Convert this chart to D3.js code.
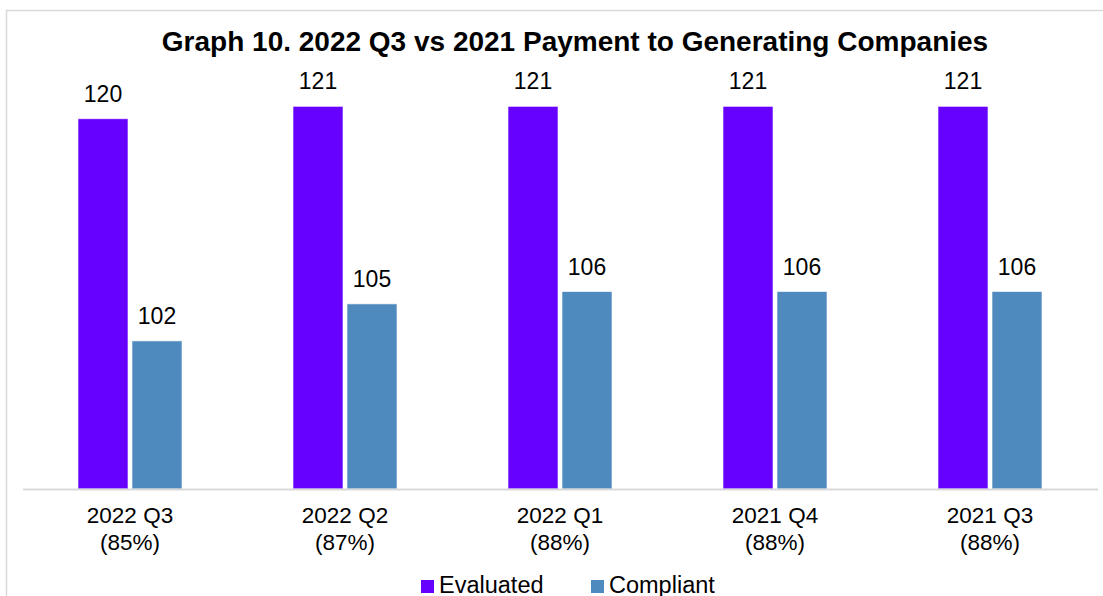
<!DOCTYPE html>
<html>
<head>
<meta charset="utf-8">
<script src="https://cdn.jsdelivr.net/npm/d3@7"></script>
<style>
  body { margin: 0; background: #fff; }
  svg { display: block; font-family: "Liberation Sans", Arial, sans-serif; }
</style>
</head>
<body>
<svg id="chart" width="1103" height="596"></svg>
<script>
// data
const quarters = ['2022 Q3', '2022 Q2', '2022 Q1', '2021 Q4', '2021 Q3'];
const shares = ['(85%)', '(87%)', '(88%)', '(88%)', '(88%)'];
const series = ['Evaluated', 'Compliant'];
const evaluated = [120, 121, 121, 121, 121];
const compliant = [102, 105, 106, 106, 106];
const colors = ['#6600FF', '#4F8ABE'];

const W = 1103, H = 596;
const svg = d3.select('#chart');

//****frame****//
svg.append('rect')
   .attr('x', 6.5).attr('y', 10.5)
   .attr('width', W + 20).attr('height', H + 20)
   .attr('fill', 'none')
   .attr('stroke', '#d9d9d9')
   .attr('stroke-width', 1.5);

const margin = {top: 57, left: 22.5, right: 5.5, bottom: 107};
const plotBottom = H - margin.bottom;

const x = d3.scaleBand()
    .domain(quarters)
    .range([margin.left, W - margin.right]);

const xSub = d3.scaleBand()
    .domain(series)
    .range([0, x.bandwidth()])
    .paddingInner(4 / 54)
    .paddingOuter(1.0278);

const y = d3.scaleLinear()
    .domain([90, 125])
    .range([plotBottom, margin.top]);

const rows = quarters.map((q, i) => ({q, values: [evaluated[i], compliant[i]]}));

//****title****//
svg.append('text')
   .attr('x', 575)
   .attr('y', 51)
   .attr('text-anchor', 'middle')
   .attr('font-size', 28)
   .attr('font-weight', 'bold')
   .attr('fill', '#000')
   .text('Graph 10. 2022 Q3 vs 2021 Payment to Generating Companies');

//****bars****//
const group = svg.selectAll('.grp')
    .data(rows)
  .enter().append('g')
    .attr('class', 'grp')
    .attr('transform', d => `translate(${x(d.q)},0)`);

group.selectAll('rect')
    .data(d => d.values.map((v, j) => ({key: series[j], v, j})))
  .enter().append('rect')
    .attr('x', d => xSub(d.key))
    .attr('y', d => y(d.v))
    .attr('width', xSub.bandwidth())
    .attr('height', d => plotBottom - y(d.v))
    .attr('fill', d => colors[d.j])
    .attr('stroke', '#fff')
    .attr('stroke-opacity', 0.6)
    .attr('stroke-width', 1);

group.selectAll('.val')
    .data(d => d.values.map((v, j) => ({key: series[j], v, j})))
  .enter().append('text')
    .attr('class', 'val')
    .attr('x', d => xSub(d.key) + xSub.bandwidth() / 2)
    .attr('y', d => y(d.v) - 17)
    .attr('text-anchor', 'middle')
    .attr('font-size', 23)
    .attr('fill', '#000')
    .text(d => d.v);

//****x axis****//
const axisX = svg.append('g')
    .attr('transform', `translate(0,${plotBottom})`)
    .call(d3.axisBottom(x).tickSize(0).tickFormat(''));
axisX.select('.domain')
    .attr('stroke', '#d9d9d9')
    .attr('stroke-width', 2);

const lab = svg.selectAll('.cat')
    .data(quarters)
  .enter().append('text')
    .attr('class', 'cat')
    .attr('text-anchor', 'middle')
    .attr('font-size', 22.5)
    .attr('fill', '#000');
lab.append('tspan')
    .attr('x', d => x(d) + x.bandwidth() / 2)
    .attr('y', plotBottom + 34)
    .text(d => d);
lab.append('tspan')
    .attr('x', d => x(d) + x.bandwidth() / 2)
    .attr('y', plotBottom + 60.5)
    .text((d, i) => shares[i]);

//****legend****//
const legendX = [421, 591];
const leg = svg.selectAll('.leg')
    .data(series)
  .enter().append('g')
    .attr('class', 'leg')
    .attr('transform', (d, i) => `translate(${legendX[i]},580)`);
leg.append('rect')
    .attr('width', 13).attr('height', 13)
    .attr('fill', (d, i) => colors[i]);
leg.append('text')
    .attr('x', 18)
    .attr('y', 12.5)
    .attr('font-size', 23.5)
    .attr('fill', '#000')
    .text(d => d);
</script>
</body>
</html>
